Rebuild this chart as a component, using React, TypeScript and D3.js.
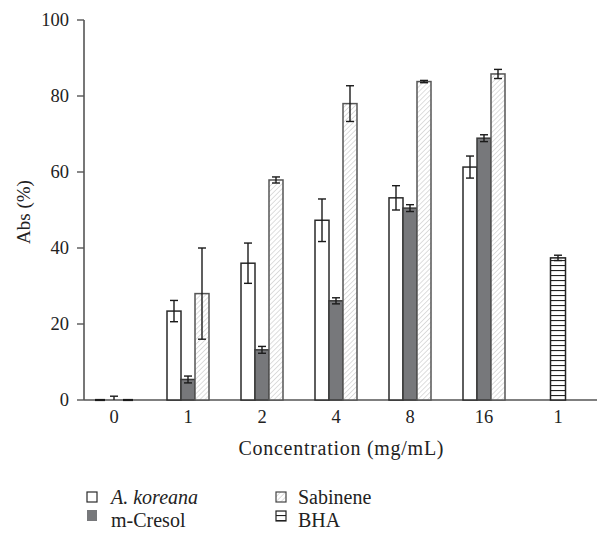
import React from "react";
import * as d3 from "d3";

const categories = ["0", "1", "2", "4", "8", "16"];
const bhaCategory = "1";
const series = ["A. koreana", "m-Cresol", "Sabinene"];
const koreana = [0, 23.4, 36.0, 47.3, 53.2, 61.3];
const koreanaErr = [0, 2.8, 5.3, 5.6, 3.2, 2.9];
const mCresol = [0, 5.4, 13.2, 26.1, 50.5, 68.9];
const mCresolErr = [1.0, 0.9, 0.9, 0.8, 0.9, 0.9];
const sabinene = [0, 28.0, 57.9, 78.0, 83.8, 85.8];
const sabineneErr = [0, 12.0, 0.8, 4.7, 0.3, 1.2];
const bhaValue = 37.4;
const bhaErr = 0.7;
const yTicks = [0, 20, 40, 60, 80, 100];

const W = 597;
const H = 534;
const FONT = "'Liberation Serif', 'Times New Roman', serif";

export default function App() {
  const y = d3.scaleLinear().domain([0, 100]).range([400, 20]);
  const groupIdx = d3.range(categories.length + 1);
  const x = d3.scaleBand<number>().domain(groupIdx).range([77, 595]).padding(0);
  const bw = x.bandwidth();
  const inner = d3.scaleBand<string>().domain(series).range([bw / 2 - 21, bw / 2 + 21]).padding(0);
  const ib = inner.bandwidth();
  const values = [koreana, mCresol, sabinene];
  const errs = [koreanaErr, mCresolErr, sabineneErr];
  const fills = ["#ffffff", "#77787b", "url(#hatch)"];
  const strokes = ["#2a2a2a", "#3a3a3a", "#555555"];
  const axisColor = "#555";

  const errBar = (cx: number, v: number, e: number, key: string) => {
    if (!e) return null;
    const t = y(v + e);
    const b = Math.min(y(v - e), 400);
    return (
      <g key={key} stroke="#1a1a1a" strokeWidth={1.4}>
        <line x1={cx} x2={cx} y1={t} y2={b} />
        <line x1={cx - 4} x2={cx + 4} y1={t} y2={t} />
        {v - e > 0 && <line x1={cx - 4} x2={cx + 4} y1={b} y2={b} />}
      </g>
    );
  };

  const bhaX = (x(categories.length) as number) + bw / 2;

  return (
    <svg width={W} height={H} style={{ display: "block", position: "absolute", left: 0, top: 0 }} fontFamily={FONT}>
      <defs>
        <pattern id="hatch" patternUnits="userSpaceOnUse" width={3.5} height={3.5} patternTransform="rotate(45)">
          <rect width={3.5} height={3.5} fill="#fff" />
          <line x1={0} y1={0} x2={0} y2={3.5} stroke="#bcbcbc" strokeWidth={1} />
        </pattern>
        <pattern id="hstripe" patternUnits="userSpaceOnUse" width={6} height={5}>
          <rect width={6} height={5} fill="#fff" />
          <line x1={0} y1={0.5} x2={6} y2={0.5} stroke="#222" strokeWidth={1.2} />
        </pattern>
      </defs>
      <rect width={W} height={H} fill="#fff" />

      {/* axes */}
      <line x1={84} x2={84} y1={y(100)} y2={400} stroke={axisColor} strokeWidth={1.6} />
      <line x1={84} x2={597} y1={400} y2={400} stroke={axisColor} strokeWidth={1.6} />

      {/* bars */}
      {categories.map((c, i) =>
        series.map((s, j) => {
          const x0 = (x(i) as number) + (inner(s) as number);
          const v = values[j][i];
          const h = Math.max(0, 400 - y(v));
          if (h === 0) {
            return j === 1 ? null : (
              <line key={`b${i}-${j}`} x1={x0 + 2} x2={x0 + ib - 2} y1={400} y2={400} stroke="#1a1a1a" strokeWidth={2.2} />
            );
          }
          return (
            <rect
              key={`b${i}-${j}`}
              x={x0}
              y={y(v)}
              width={ib}
              height={h}
              fill={fills[j]}
              stroke={strokes[j]}
              strokeWidth={1.5}
            />
          );
        })
      )}
      <rect x={bhaX - 7.5} y={y(bhaValue)} width={15} height={400 - y(bhaValue)} fill="url(#hstripe)" stroke="#222" strokeWidth={1.5} />

      {/* error bars */}
      {categories.map((c, i) =>
        series.map((s, j) => {
          const cx = (x(i) as number) + (inner(s) as number) + ib / 2;
          return errBar(cx, values[j][i], errs[j][i], `e${i}-${j}`);
        })
      )}
      {errBar(bhaX, bhaValue, bhaErr, "ebha")}

      {yTicks.map((t) => (
        <g key={`yt${t}`}>
          <line x1={77} x2={84} y1={y(t)} y2={y(t)} stroke={axisColor} strokeWidth={1.4} />
          <text x={69} y={y(t)} dy="0.35em" textAnchor="end" fontSize={18.5} fill="#222">
            {t}
          </text>
        </g>
      ))}
      {[...categories, bhaCategory].map((c, i) => (
        <text key={`xt${i}`} x={(x(i) as number) + bw / 2} y={423} textAnchor="middle" fontSize={18.5} fill="#222">
          {c}
        </text>
      ))}

      <text x={341} y={455} textAnchor="middle" fontSize={20} fill="#222" textLength={205} lengthAdjust="spacing">
        Concentration (mg/mL)
      </text>
      <text transform="translate(30,212) rotate(-90)" textAnchor="middle" fontSize={19} fill="#222">
        Abs (%)
      </text>

      {/* legend */}
      <rect x={87} y={492} width={10} height={10} fill="#fff" stroke="#2a2a2a" strokeWidth={1.2} />
      <text x={111} y={504} fontSize={20} fontStyle="italic" fill="#222">
        A. koreana
      </text>
      <rect x={87} y={510} width={10} height={11} fill="#77787b" />
      <text x={111} y={527} fontSize={20} fill="#222">
        m-Cresol
      </text>
      <rect x={276} y={492} width={10} height={10} fill="url(#hatch)" stroke="#444" strokeWidth={1.2} />
      <text x={298} y={504} fontSize={20} fill="#222">
        Sabinene
      </text>
      <rect x={276} y={511} width={10} height={10} fill="url(#hstripe)" stroke="#222" strokeWidth={1.2} />
      <text x={298} y={527} fontSize={20} fill="#222">
        BHA
      </text>
    </svg>
  );
}
